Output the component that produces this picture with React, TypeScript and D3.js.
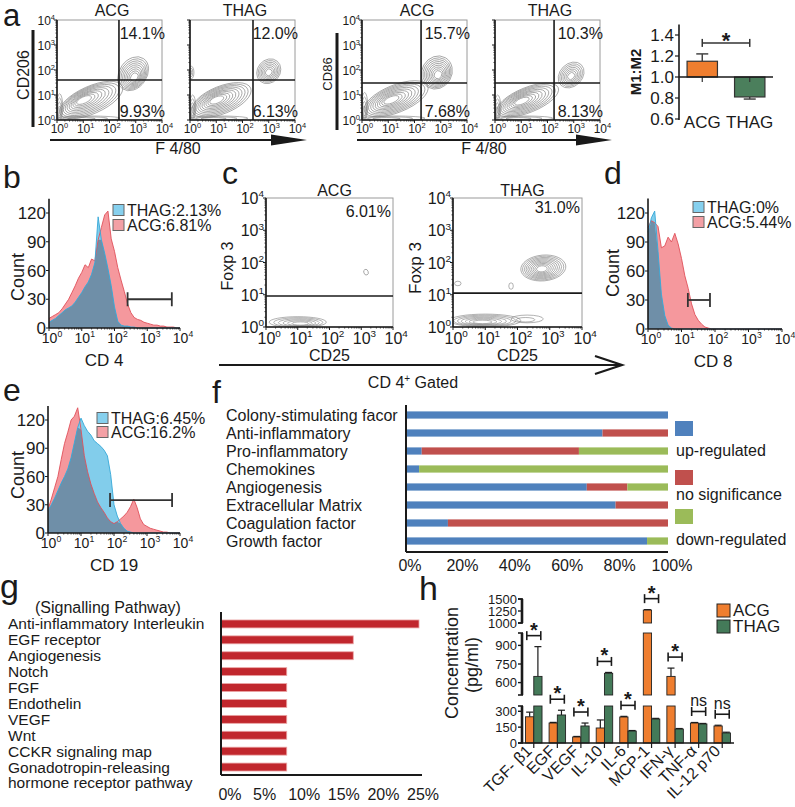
import React from "react";
import * as d3 from "d3";

const FONT = "'Liberation Sans', Arial, Helvetica, sans-serif";
const INK = "#1a1a1a";

// ---------- a: macrophage flow plots ----------
const flowTitles = ["ACG", "THAG", "ACG", "THAG"];
const flowMarkers = ["CD206", "CD86"];
const flowUpper = ["14.1%", "12.0%", "15.7%", "10.3%"];
const flowLower = ["9.93%", "6.13%", "7.68%", "8.13%"];
const flowGateX = [2.36, 2.4, 2.25, 2.25];
const flowGateY = [1.6, 1.6, 1.48, 1.48];
// contour populations, in decades: [cx, cy, rx, ry, tilt, rings, peakX, peakY]
const flowPops = [
  [[1.3, 0.8, 1.3, 0.55, 24, 10, 1.0, 0.8], [2.9, 1.85, 0.7, 0.55, 55, 9, 2.95, 1.7], [0.1, 0.5, 0.12, 0.55, 0, 4, 0.08, 0.3], [1.2, 0.07, 1.2, 0.09, 0, 3, 0.8, 0.05]],
  [[1.2, 0.8, 1.2, 0.55, 22, 10, 1.0, 0.8], [3.0, 1.95, 0.5, 0.45, 50, 7, 3.0, 1.9], [0.05, 1.9, 0.1, 0.25, 0, 3, 0.0, 1.9], [0.1, 0.5, 0.12, 0.5, 0, 4, 0.08, 0.3], [1.1, 0.07, 1.1, 0.09, 0, 3, 0.8, 0.05]],
  [[1.3, 0.85, 1.3, 0.55, 22, 10, 1.1, 0.8], [2.85, 1.9, 0.65, 0.6, 60, 9, 2.9, 1.8], [0.1, 0.55, 0.12, 0.55, 0, 4, 0.08, 0.3], [1.2, 0.07, 1.2, 0.09, 0, 3, 0.8, 0.05]],
  [[1.25, 0.8, 1.25, 0.5, 22, 10, 1.0, 0.75], [2.9, 1.8, 0.55, 0.45, 45, 7, 2.9, 1.75], [0.1, 0.5, 0.12, 0.5, 0, 4, 0.08, 0.3], [1.1, 0.07, 1.1, 0.09, 0, 3, 0.8, 0.05]],
];

// ---------- a: M1:M2 ratio ----------
const ratioGroups = ["ACG", "THAG"];
const ratioMean = [1.15, 0.81];
const ratioErr = [1.22, 0.79];
const ratioTicks = [0.6, 0.8, 1.0, 1.2, 1.4];

// ---------- b, d, e: histograms on a shared log grid ----------
const logGrid = [0, 0.1, 0.2, 0.3, 0.4, 0.5, 0.6, 0.7, 0.8, 0.9, 1, 1.1, 1.2, 1.3, 1.4, 1.5, 1.6, 1.7, 1.8, 1.9, 2, 2.1, 2.2, 2.3, 2.4, 2.5, 2.6, 2.7, 2.8, 2.9, 3, 3.1, 3.2, 3.3, 3.4, 3.5, 3.6, 3.7, 3.8, 3.9, 4];
const cd4ACG = [10, 12, 14, 16, 20, 25, 30, 37, 44, 52, 58, 66, 63, 72, 70, 92, 105, 118, 122, 93, 80, 63, 50, 38, 25, 16, 11, 9, 8, 6, 5, 4, 3, 3, 2, 2, 1, 1, 1, 0, 0];
const cd4THAG = [6, 8, 10, 13, 16, 19, 21, 23, 27, 32, 37, 43, 48, 56, 68, 116, 92, 78, 62, 44, 22, 7, 3, 2, 2, 1, 1, 0, 0, 0, 0, 0, 0, 0, 0, 0, 0, 0, 0, 0, 0];
const cd8ACG = [105, 112, 110, 106, 84, 86, 95, 90, 99, 88, 73, 55, 42, 26, 15, 9, 5, 2, 1, 0, 0, 0, 0, 0, 0, 0, 0, 0, 0, 0, 0, 0, 0, 0, 0, 0, 0, 0, 0, 0, 0];
const cd8THAG = [100, 115, 122, 80, 36, 14, 4, 1, 0, 0, 0, 0, 0, 0, 0, 0, 0, 0, 0, 0, 0, 0, 0, 0, 0, 0, 0, 0, 0, 0, 0, 0, 0, 0, 0, 0, 0, 0, 0, 0, 0];
const cd19ACG = [25, 36, 48, 60, 78, 95, 107, 120, 124, 133, 110, 82, 65, 52, 42, 33, 27, 22, 16, 12, 10, 12, 15, 18, 22, 28, 36, 27, 15, 9, 7, 5, 4, 3, 2, 1, 1, 0, 0, 0, 0];
const cd19THAG = [24, 30, 37, 45, 53, 60, 68, 80, 96, 112, 122, 114, 108, 104, 98, 95, 92, 88, 82, 62, 30, 18, 10, 5, 2, 1, 0, 0, 0, 0, 0, 0, 0, 0, 0, 0, 0, 0, 0, 0, 0];
const countTicks = [0, 30, 60, 90, 120];
const decades = [0, 1, 2, 3, 4];
const cd4Legend = ["THAG:2.13%", "ACG:6.81%"];
const cd8Legend = ["THAG:0%", "ACG:5.44%"];
const cd19Legend = ["THAG:6.45%", "ACG:16.2%"];
const cd4Gate = [2.4, 3.75, 30];
const cd8Gate = [1.19, 1.85, 30];
const cd19Gate = [1.88, 3.76, 35];

// ---------- c: Treg ----------
const tregTitles = ["ACG", "THAG"];
const tregPct = ["6.01%", "31.0%"];
const tregGate = [0.96, 1.05];
const tregPops = [
  [[1.0, 0.15, 0.9, 0.17, 0, 6, 1.1, 0.1], [3.15, 1.7, 0.07, 0.09, 20, 1, 3.15, 1.7]],
  [[2.8, 1.83, 0.7, 0.4, 5, 10, 2.75, 1.8], [1.8, 1.27, 0.07, 0.1, 0, 1, 1.8, 1.27], [1.0, 0.2, 1.1, 0.2, 0, 7, 0.9, 0.15], [2.3, 0.25, 0.5, 0.12, 0, 2, 2.2, 0.2], [0.15, 1.35, 0.1, 0.07, 0, 1, 0.15, 1.35]],
];

// ---------- f: gene categories ----------
const factorCats = ["Colony-stimulating facor", "Anti-inflammatory", "Pro-inflammatory", "Chemokines", "Angiogenesis", "Extracellular Matrix", "Coagulation factor", "Growth factor"];
const factorUp = [100, 75, 6, 5, 69, 80, 16, 92];
const factorNs = [0, 25, 60, 0, 15.5, 20, 84, 0];
const factorDown = [0, 0, 34, 95, 15.5, 0, 0, 8];
const factorTicks = [0, 20, 40, 60, 80, 100];
const factorLegend = ["up-regulated", "no significance", "down-regulated"];

// ---------- g: signalling pathways ----------
const pathways = ["Anti-inflammatory Interleukin", "EGF receptor", "Angiogenesis", "Notch", "FGF", "Endothelin", "VEGF", "Wnt", "CCKR signaling map", "Gonadotropin-releasing|hormone receptor pathway"];
const pathwayPct = [25, 16.7, 16.7, 8.3, 8.3, 8.3, 8.3, 8.3, 8.3, 8.3];
const pathwayTicks = [0, 5, 10, 15, 20, 25];

// ---------- h: cytokines ----------
const cytokines = ["TGF- β1", "EGF", "VEGF", "IL-10", "IL-6", "MCP-1", "IFN-γ", "TNF-α", "IL-12 p70"];
const cytoACG = [248, 189, 57, 142, 246, 1270, 650, 189, 161];
const cytoACGErr = [292, 195, 62, 218, 252, 1278, 717, 194, 168];
const cytoTHAG = [650, 265, 161, 675, 113, 227, 132, 180, 95];
const cytoTHAGErr = [890, 310, 189, 682, 118, 233, 137, 185, 102];
const cytoSig = ["*", "*", "*", "*", "*", "*", "*", "ns", "ns"];
const concBreaks = [[0, 350], [500, 1000], [1000, 1500]];
const concTicks = [[0, 150, 300], [600, 750, 900], [1000, 1250, 1500]];

const ORANGE = "#EF7E2F";
const GREEN = "#447A59";
const minorLogs = d3.range(0, 4).flatMap((d) => d3.range(2, 10).map((m) => d + Math.log10(m)));

function Pow({ x, y, exp, fs, anchor = "middle" }: any) {
  return (
    <text x={x} y={y} fontSize={fs} textAnchor={anchor} fill={INK}>
      10<tspan dy={-fs * 0.42} fontSize={fs * 0.62}>{exp}</tspan>
    </text>
  );
}

function Rotated({ x, y, fs, children, weight }: any) {
  return (
    <text transform={`translate(${x},${y}) rotate(-90)`} textAnchor="middle" fontSize={fs} fontWeight={weight} fill={INK}>
      {children}
    </text>
  );
}

function FlowPlot({ id, x, y, w, h, pops, gateX, gateY, fs, yLabels = true }: any) {
  const xs = d3.scaleLinear().domain([0, 4]).range([x, x + w]);
  const ys = d3.scaleLinear().domain([0, 4]).range([y + h, y]);
  const kx = w / 4;
  const ky = h / 4;
  const rings: any[] = [];
  pops.forEach((p: number[], pi: number) => {
    const [cx, cy, rx, ry, tilt, n, px, py] = p;
    for (let k = 0; k < n; k++) {
      const t = n === 1 ? 0 : k / n;
      const ex = xs(cx + (px - cx) * t);
      const ey = ys(cy + (py - cy) * t);
      const s = 1 - 0.85 * t;
      rings.push(
        <ellipse key={`${pi}-${k}`} cx={ex} cy={ey} rx={rx * kx * s} ry={ry * ky * s}
          transform={`rotate(${-tilt} ${ex} ${ey})`} fill="none" stroke="#7d7d7d" strokeWidth={0.6} />
      );
    }
  });
  return (
    <g>
      <defs>
        <clipPath id={id}><rect x={x} y={y} width={w} height={h} /></clipPath>
      </defs>
      <rect x={x} y={y} width={w} height={h} fill="#fff" stroke="#9a9a9a" strokeWidth={1} />
      <g clipPath={`url(#${id})`}>{rings}</g>
      {gateX != null && <line x1={xs(gateX)} x2={xs(gateX)} y1={y} y2={y + h} stroke={INK} strokeWidth={1.6} />}
      {gateY != null && <line x1={x} x2={x + w} y1={ys(gateY)} y2={ys(gateY)} stroke={INK} strokeWidth={1.6} />}
      <line x1={x} x2={x} y1={y} y2={y + h} stroke={INK} strokeWidth={1.6} />
      <line x1={x} x2={x + w} y1={y + h} y2={y + h} stroke={INK} strokeWidth={1.6} />
      {decades.map((d) => (
        <g key={d}>
          <line x1={x - 3} x2={x} y1={ys(d)} y2={ys(d)} stroke={INK} />
          <line x1={xs(d)} x2={xs(d)} y1={y + h} y2={y + h + 3} stroke={INK} />
          {yLabels && <Pow x={x - 2} y={ys(d) + fs * 0.38} exp={d} fs={fs} anchor="end" />}
          <Pow x={xs(d) + fs * 0.2} y={y + h + fs + 1} exp={d} fs={fs} />
        </g>
      ))}
      {minorLogs.map((m, i) => (
        <g key={i}>
          <line x1={x - 1.6} x2={x} y1={ys(m)} y2={ys(m)} stroke={INK} strokeWidth={0.7} />
          <line x1={xs(m)} x2={xs(m)} y1={y + h} y2={y + h + 1.6} stroke={INK} strokeWidth={0.7} />
        </g>
      ))}
    </g>
  );
}

function Histogram({ x0, x1, y0, y120, red, blue, gate, legend, legendX, legendY, xLabel, xLabelX }: any) {
  const xs = d3.scaleLinear().domain([0, 4]).range([x0, x1]);
  const ys = d3.scaleLinear().domain([0, 120]).range([y0, y120]);
  const area = d3.area<number>().x((_, i) => xs(logGrid[i])).y0(y0).y1((d) => ys(d));
  const line = d3.line<number>().x((_, i) => xs(logGrid[i])).y((d) => ys(d));
  const both = red.map((r: number, i: number) => Math.min(r, blue[i]));
  return (
    <g>
      <path d={area(red) || ""} fill="#F5989D" />
      <path d={area(blue) || ""} fill="#82CDEB" />
      <path d={area(both) || ""} fill="#6F8FA8" />
      <path d={line(red) || ""} fill="none" stroke="#E0505A" strokeWidth={0.9} />
      <path d={line(blue) || ""} fill="none" stroke="#35A8D8" strokeWidth={0.9} />
      <line x1={x0} x2={x0} y1={y0} y2={ys(135)} stroke={INK} strokeWidth={1.6} />
      <line x1={x0} x2={x1} y1={y0} y2={y0} stroke={INK} strokeWidth={1.6} />
      {countTicks.map((c) => (
        <g key={c}>
          <line x1={x0 - 3} x2={x0} y1={ys(c)} y2={ys(c)} stroke={INK} />
          <text x={x0 - 3} y={ys(c) + 6} fontSize={17} textAnchor="end" fill={INK}>{c}</text>
        </g>
      ))}
      {decades.map((d) => (
        <g key={d}>
          <line x1={xs(d)} x2={xs(d)} y1={y0} y2={y0 + 3} stroke={INK} />
          <Pow x={xs(d) + 3} y={y0 + 15} exp={d} fs={14} />
        </g>
      ))}
      {minorLogs.map((m, i) => (
        <line key={i} x1={xs(m)} x2={xs(m)} y1={y0} y2={y0 + 1.6} stroke={INK} strokeWidth={0.7} />
      ))}
      <g stroke="#333" strokeWidth={1.8}>
        <line x1={xs(gate[0])} x2={xs(gate[1])} y1={ys(gate[2])} y2={ys(gate[2])} />
        <line x1={xs(gate[0])} x2={xs(gate[0])} y1={ys(gate[2]) - 7} y2={ys(gate[2]) + 7} />
        <line x1={xs(gate[1])} x2={xs(gate[1])} y1={ys(gate[2]) - 7} y2={ys(gate[2]) + 7} />
      </g>
      {legend.map((t: string, i: number) => (
        <g key={t}>
          <rect x={legendX} y={legendY[i] - 5.5} width={11} height={11} fill={i === 0 ? "#86D0EE" : "#F3A0A5"} stroke="#666" strokeWidth={1} />
          <text x={legendX + 14} y={legendY[i] + 6} fontSize={16} fill={INK}>{t}</text>
        </g>
      ))}
      <text x={xLabelX} y={y0 + 38} fontSize={17} textAnchor="middle" fill={INK}>{xLabel}</text>
    </g>
  );
}

function PanelA() {
  const frames = [57, 190, 362, 495];
  const ry = d3.scaleLinear().domain([0.6, 1.4]).range([119, 35]);
  const rx = d3.scaleBand().domain(ratioGroups).range([679, 773]).paddingInner(0.36).paddingOuter(0.17);
  const bw = rx.bandwidth();
  const centers = ratioGroups.map((g) => (rx(g) || 0) + bw / 2);
  const bracketY = ry(d3.max(ratioErr) || 1) - 11;
  return (
    <g>
      <text x={3} y={26} fontSize={31} fill={INK}>a</text>
      {frames.map((fx, i) => (
        <g key={i}>
          <FlowPlot id={`fa${i}`} x={fx} y={20} w={105} h={100} pops={flowPops[i]} gateX={flowGateX[i]} gateY={flowGateY[i]} fs={12} yLabels={i % 2 === 0} />
          <text x={fx + 55} y={16} fontSize={16} textAnchor="middle" fill={INK}>{flowTitles[i]}</text>
          <text x={fx + 108} y={39} fontSize={16} textAnchor="end" fill={INK}>{flowUpper[i]}</text>
          <text x={fx + 108} y={117} fontSize={16} textAnchor="end" fill={INK}>{flowLower[i]}</text>
        </g>
      ))}
      <Rotated x={28.5} y={75} fs={16}>{flowMarkers[0]}</Rotated>
      <Rotated x={331.5} y={74} fs={13}>{flowMarkers[1]}</Rotated>
      <line x1={33} x2={33} y1={30} y2={127} stroke={INK} strokeWidth={3} />
      <line x1={337} x2={337} y1={33} y2={130} stroke={INK} strokeWidth={3} />
      {[[50, 307], [357, 612]].map(([a, b], i) => (
        <g key={i}>
          <line x1={a} x2={b - 30} y1={140} y2={140} stroke={INK} strokeWidth={2.2} />
          <path d={`M${b - 36},134.5L${b},140L${b - 36},145.5Z`} fill={INK} />
        </g>
      ))}
      <text x={178} y={154} fontSize={16} textAnchor="middle" fill={INK}>F 4/80</text>
      <text x={484} y={154} fontSize={16} textAnchor="middle" fill={INK}>F 4/80</text>

      {/* M1:M2 bars */}
      {ratioGroups.map((g, i) => (
        <g key={g}>
          <line x1={centers[i]} x2={centers[i]} y1={ry(ratioMean[i])} y2={ry(ratioErr[i])} stroke="#444" strokeWidth={1.5} />
          <line x1={centers[i] - 6} x2={centers[i] + 6} y1={ry(ratioErr[i])} y2={ry(ratioErr[i])} stroke="#444" strokeWidth={1.5} />
          <rect x={rx(g)} width={bw} y={Math.min(ry(ratioMean[i]), ry(1))} height={Math.abs(ry(ratioMean[i]) - ry(1))}
            fill={i === 0 ? ORANGE : "#4B7F5C"} stroke="#333" strokeWidth={1.2} />
          <line x1={centers[i]} x2={centers[i]} y1={ry(1)} y2={ry(1) + 5} stroke="#333" strokeWidth={1.2} />
          <text x={centers[i]} y={128} fontSize={17} textAnchor="middle" fill={INK}>{g}</text>
        </g>
      ))}
      <line x1={679} x2={773} y1={ry(1)} y2={ry(1)} stroke={INK} strokeWidth={1.6} />
      <line x1={679} x2={679} y1={ry(1.5)} y2={ry(0.6) + 1} stroke={INK} strokeWidth={1.6} />
      {ratioTicks.map((t) => (
        <g key={t}>
          <line x1={675} x2={679} y1={ry(t)} y2={ry(t)} stroke={INK} strokeWidth={1.2} />
          <text x={674} y={ry(t) + 6} fontSize={17} textAnchor="end" fill={INK}>{t.toFixed(1)}</text>
        </g>
      ))}
      <g stroke="#333" strokeWidth={1.5}>
        <line x1={centers[0]} x2={centers[1]} y1={bracketY} y2={bracketY} />
        <line x1={centers[0]} x2={centers[0]} y1={bracketY - 4} y2={bracketY + 4} />
        <line x1={centers[1]} x2={centers[1]} y1={bracketY - 4} y2={bracketY + 4} />
      </g>
      <text x={(centers[0] + centers[1]) / 2} y={bracketY + 5} fontSize={22} fontWeight="bold" textAnchor="middle" fill={INK}>*</text>
      <Rotated x={640.5} y={72} fs={15} weight="bold">M1:M2</Rotated>
    </g>
  );
}

function PanelC() {
  const frames = [[266, 127], [453, 129]];
  return (
    <g>
      <text x={222} y={184} fontSize={32} fill={INK}>c</text>
      {frames.map(([fx, fw], i) => (
        <g key={i}>
          <FlowPlot id={`fc${i}`} x={fx} y={198} w={fw} h={129} pops={tregPops[i]} gateY={tregGate[i]} fs={16} />
          <text x={fx + fw / 2 + 5} y={196} fontSize={16} textAnchor="middle" fill={INK}>{tregTitles[i]}</text>
          <text x={fx + fw - 2} y={217 - i * 4} fontSize={16} textAnchor="end" fill={INK}>{tregPct[i]}</text>
          <text x={fx + fw / 2} y={361} fontSize={16} textAnchor="middle" fill={INK}>CD25</text>
        </g>
      ))}
      <Rotated x={233} y={266} fs={16}>Foxp 3</Rotated>
      <Rotated x={421} y={268} fs={17}>Foxp 3</Rotated>
      <line x1={219} x2={621} y1={365} y2={365} stroke={INK} strokeWidth={2.2} />
      <polyline points="595,356 622,365 595,374" fill="none" stroke={INK} strokeWidth={2.2} />
      <text x={413} y={388} fontSize={16} textAnchor="middle" fill={INK}>
        CD 4<tspan dy={-6} fontSize={10}>+</tspan><tspan dy={6}> Gated</tspan>
      </text>
    </g>
  );
}

function PanelF() {
  const xs = d3.scaleLinear().domain([0, 100]).range([406, 668]);
  const ys = d3.scaleBand().domain(factorCats).range([406, 550]).paddingInner(0.6).paddingOuter(0.3);
  const table = factorCats.map((c, i) => ({ cat: c, up: factorUp[i], ns: factorNs[i], down: factorDown[i] }));
  const series = d3.stack<any>().keys(["up", "ns", "down"])(table);
  const colors = ["#4F81BD", "#C0504D", "#9BBB59"];
  const legendBox = [421, 470, 509];
  const legendText = [456, 500, 545];
  return (
    <g>
      <text x={212} y={403} fontSize={32} fill={INK}>f</text>
      {series.map((s, si) =>
        s.map((d, i) => (
          <rect key={`${si}-${i}`} x={xs(d[0])} width={Math.max(0, xs(d[1]) - xs(d[0]))}
            y={ys(factorCats[i])} height={ys.bandwidth()} fill={colors[si]} />
        ))
      )}
      {factorCats.map((c) => (
        <text key={c} x={226} y={(ys(c) || 0) + ys.bandwidth() / 2 + 5.5} fontSize={16} fill={INK}>{c}</text>
      ))}
      <line x1={406} x2={406} y1={405} y2={552} stroke={INK} strokeWidth={2} />
      <line x1={406} x2={668} y1={552} y2={552} stroke={INK} strokeWidth={2} />
      {factorTicks.map((t) => (
        <text key={t} x={xs(t) + 4} y={571} fontSize={16} textAnchor="middle" fill={INK}>{t}%</text>
      ))}
      {factorLegend.map((t, i) => (
        <g key={t}>
          <rect x={675} y={legendBox[i]} width={18} height={15} fill={colors[i]} />
          <text x={676} y={legendText[i]} fontSize={16} fill={INK}>{t}</text>
        </g>
      ))}
    </g>
  );
}

function PanelG() {
  const xs = d3.scaleLinear().domain([0, 25]).range([221, 419]);
  const ys = d3.scaleBand().domain(pathways).range([616, 775]).paddingInner(0.5).paddingOuter(0.25);
  return (
    <g>
      <text x={0} y={598} fontSize={34} fill={INK}>g</text>
      <text x={35} y={613} fontSize={16} fill={INK}>(Signalling Pathway)</text>
      {pathways.map((p, i) => {
        const yc = (ys(p) || 0) + ys.bandwidth() / 2;
        return (
          <g key={p}>
            <rect x={xs(0)} width={xs(pathwayPct[i]) - xs(0)} y={ys(p)} height={ys.bandwidth()} fill="#C1272D" stroke="#EBA5A5" strokeWidth={0.8} />
            {p.split("|").map((line, li) => (
              <text key={li} x={8} y={yc + 5.5 + li * 15} fontSize={15.5} fill={INK}>{line}</text>
            ))}
          </g>
        );
      })}
      <line x1={221} x2={221} y1={612} y2={775} stroke={INK} strokeWidth={2} />
      <line x1={221} x2={422} y1={775} y2={775} stroke={INK} strokeWidth={2} />
      {pathwayTicks.map((t) => (
        <text key={t} x={xs(t) + (t === 0 ? 9 : 4)} y={800} fontSize={16} textAnchor="middle" fill={INK}>{t}%</text>
      ))}
    </g>
  );
}

function PanelH() {
  const segs = concBreaks.map((d, i) => d3.scaleLinear().domain(d).range([[743, 706], [695, 633], [623, 599]][i]));
  const yOf = (v: number) => {
    for (let i = segs.length - 1; i >= 0; i--) if (v >= concBreaks[i][0]) return segs[i](Math.min(v, concBreaks[i][1]));
    return segs[0](v);
  };
  const xb = d3.scaleBand().domain(cytokines).range([522, 734]).paddingInner(0.3).paddingOuter(0.15);
  const bw = xb.bandwidth() / 2;
  const pieces = (v: number) =>
    concBreaks.map((d, i) => ({ d, i })).filter(({ d }) => v > d[0])
      .map(({ d, i }) => ({ top: segs[i](Math.min(v, d[1])), bot: segs[i](d[0]), k: i }));
  return (
    <g>
      <text x={419} y={600} fontSize={34} fill={INK}>h</text>
      {cytokines.map((c, i) => {
        const x0 = xb(c) || 0;
        const cx = x0 + bw;
        const groups = [
          { v: cytoACG[i], e: cytoACGErr[i], x: x0, fill: ORANGE },
          { v: cytoTHAG[i], e: cytoTHAGErr[i], x: x0 + bw, fill: GREEN },
        ];
        const bracket = Math.min(yOf(cytoACGErr[i]), yOf(cytoTHAGErr[i])) - 11;
        return (
          <g key={c}>
            {groups.map((g, gi) => (
              <g key={gi}>
                <line x1={g.x + bw / 2} x2={g.x + bw / 2} y1={yOf(g.v)} y2={yOf(g.e)} stroke={INK} strokeWidth={1.2} />
                <line x1={g.x + bw / 2 - 3.5} x2={g.x + bw / 2 + 3.5} y1={yOf(g.e)} y2={yOf(g.e)} stroke={INK} strokeWidth={1.2} />
                {pieces(g.v).map((p) => (
                  <rect key={p.k} x={g.x} width={bw} y={p.top} height={p.bot - p.top} fill={g.fill} stroke="#222" strokeWidth={0.9} />
                ))}
              </g>
            ))}
            <g stroke={INK} strokeWidth={1.6}>
              <line x1={cx - 7} x2={cx + 7} y1={bracket} y2={bracket} />
              <line x1={cx - 7} x2={cx - 7} y1={bracket - 4.5} y2={bracket + 4.5} />
              <line x1={cx + 7} x2={cx + 7} y1={bracket - 4.5} y2={bracket + 4.5} />
            </g>
            {cytoSig[i] === "*" ? (
              <text x={cx} y={bracket + 1} fontSize={20} fontWeight="bold" textAnchor="middle" fill={INK}>*</text>
            ) : (
              <text x={cx} y={bracket - 5} fontSize={16} textAnchor="middle" fill={INK}>{cytoSig[i]}</text>
            )}
            <line x1={cx} x2={cx} y1={743} y2={748} stroke={INK} strokeWidth={1.2} />
            <text transform={`translate(${cx - 1},${752}) rotate(-45)`} fontSize={16} textAnchor="end" fill={INK}>{c}</text>
          </g>
        );
      })}
      <line x1={522} x2={734} y1={743} y2={743} stroke={INK} strokeWidth={1.6} />
      {segs.map((s, i) => (
        <g key={i}>
          <line x1={522} x2={522} y1={s.range()[0]} y2={s.range()[1]} stroke={INK} strokeWidth={2.6} />
          <line x1={518} x2={523} y1={s.range()[0]} y2={s.range()[0]} stroke={INK} strokeWidth={1.6} />
          <line x1={518} x2={523} y1={s.range()[1]} y2={s.range()[1]} stroke={INK} strokeWidth={1.6} />
          {concTicks[i].map((t) => (
            <g key={t}>
              <line x1={518} x2={522} y1={s(t)} y2={s(t)} stroke={INK} strokeWidth={1.4} />
              <text x={517} y={s(t) + 4.5} fontSize={13} textAnchor="end" fill={INK}>{t}</text>
            </g>
          ))}
        </g>
      ))}
      <Rotated x={458} y={663} fs={18}>Concentration</Rotated>
      <Rotated x={478} y={665} fs={18}>(pg/ml)</Rotated>
      {["ACG", "THAG"].map((t, i) => (
        <g key={t}>
          <rect x={717} y={604 + i * 16} width={13} height={13} fill={i === 0 ? ORANGE : GREEN} stroke="#222" strokeWidth={1} />
          <text x={733} y={616 + i * 16} fontSize={17} fill={INK}>{t}</text>
        </g>
      ))}
    </g>
  );
}

export default function App() {
  return (
    <div style={{ position: "absolute", left: 0, top: 0, background: "#fff" }}>
      <svg width={795} height={807} viewBox="0 0 795 807" fontFamily={FONT} style={{ display: "block" }}>
        <rect width={795} height={807} fill="#fff" />
        <PanelA />
        <text x={3} y={188} fontSize={32} fill={INK}>b</text>
        <Histogram x0={49} x1={180} y0={328} y120={213} red={cd4ACG} blue={cd4THAG} gate={cd4Gate}
          legend={cd4Legend} legendX={113} legendY={[210, 225]} xLabel="CD 4" xLabelX={104} />
        <Rotated x={24} y={277} fs={18}>Count</Rotated>
        <PanelC />
        <text x={604} y={184} fontSize={32} fill={INK}>d</text>
        <Histogram x0={648} x1={782} y0={329} y120={213} red={cd8ACG} blue={cd8THAG} gate={cd8Gate}
          legend={cd8Legend} legendX={693} legendY={[207, 222]} xLabel="CD 8" xLabelX={713} />
        <Rotated x={619} y={273} fs={18}>Count</Rotated>
        <text x={3} y={401} fontSize={32} fill={INK}>e</text>
        <Histogram x0={48} x1={180} y0={533} y120={420} red={cd19ACG} blue={cd19THAG} gate={cd19Gate}
          legend={cd19Legend} legendX={97} legendY={[418, 432]} xLabel="CD 19" xLabelX={114} />
        <Rotated x={24} y={475} fs={18}>Count</Rotated>
        <PanelF />
        <PanelG />
        <PanelH />
      </svg>
    </div>
  );
}
